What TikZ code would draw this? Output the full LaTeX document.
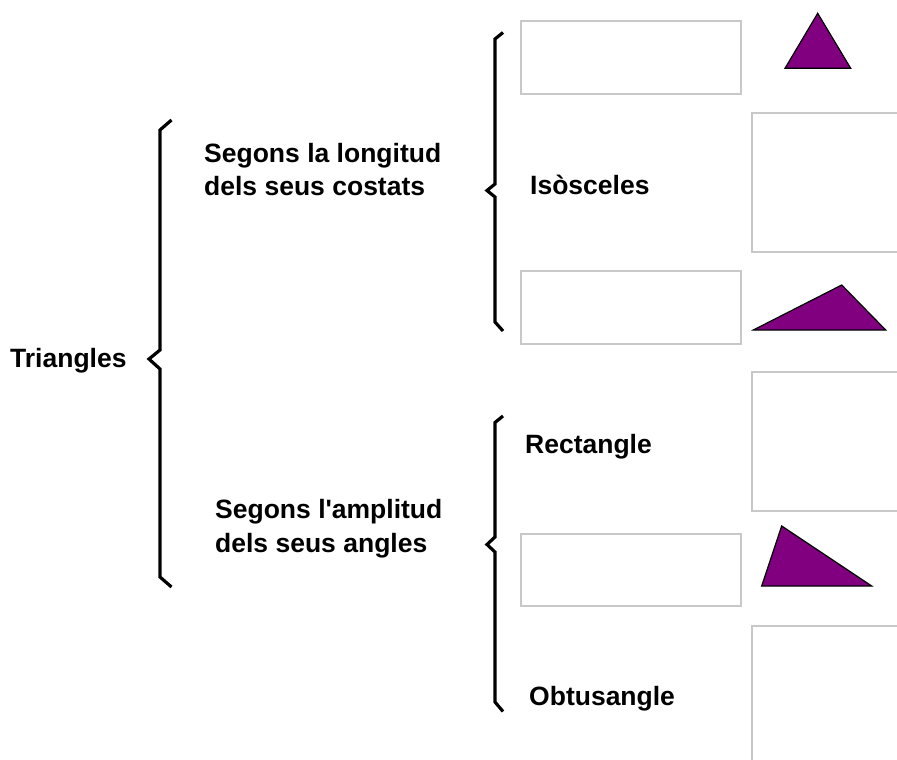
\documentclass[tikz,border=0pt]{standalone}
\usepackage{fontspec}
\setmainfont{Liberation Sans}
\definecolor{boxgray}{HTML}{C8C8C8}
\definecolor{tripurple}{HTML}{800080}
\begin{document}
\begin{tikzpicture}[x=1pt,y=-1pt,
  lbl/.style={anchor=base west,inner sep=0pt,font=\fontsize{26.5}{33}\selectfont\bfseries},
  emptybox/.style={draw=boxgray,line width=1.5pt,fill=white,inner sep=0pt},
  bracepath/.style={draw=black,line width=3.2pt,line join=miter,line cap=butt},
  tri/.style={fill=tripurple,draw=black,line width=1.2pt,line join=miter}]
\clip (0,0) rectangle (897,760);
\fill[white] (0,0) rectangle (897,760);
% boxes
\draw[emptybox] (521,21) rectangle (741,94);
\draw[emptybox] (752,113) rectangle (910,252);
\draw[emptybox] (521,271) rectangle (741,344);
\draw[emptybox] (752,372) rectangle (910,511);
\draw[emptybox] (521,534) rectangle (741,606);
\draw[emptybox] (752,626) rectangle (910,775);
% triangles
\draw[tri] (817.7,13.3) -- (850.7,68.3) -- (785,68.3) -- cycle;
\draw[tri] (841.7,285) -- (885.7,330) -- (753.3,330) -- cycle;
\draw[tri] (781.7,526) -- (871.7,586) -- (761.7,586) -- cycle;
% braces
\draw[bracepath] (171.5,120) -- (160,130) -- (160,350) -- (149,359) -- (160,369) -- (160,577) -- (171.5,587);
\draw[bracepath] (503,32.5) -- (495,39) -- (495,184) -- (487,190.5) -- (495,197) -- (495,322) -- (503,331);
\draw[bracepath] (503,416) -- (495,422.5) -- (495,537) -- (487,544.5) -- (495,552) -- (495,702) -- (503,711.5);
% labels
\node[lbl] (tri) at (10,367) {Triangles};
\node[lbl] (long1) at (204,162) {Segons la longitud};
\node[lbl] (long2) at (204,195) {dels seus costats};
\node[lbl] (iso) at (530,194) {Isòsceles};
\node[lbl] (amp1) at (215,518) {Segons l\textquotesingle amplitud};
\node[lbl] (amp2) at (215,552) {dels seus angles};
\node[lbl] (rect) at (525,453) {Rectangle};
\node[lbl] (obt) at (529,705) {Obtusangle};
\end{tikzpicture}
\end{document}
